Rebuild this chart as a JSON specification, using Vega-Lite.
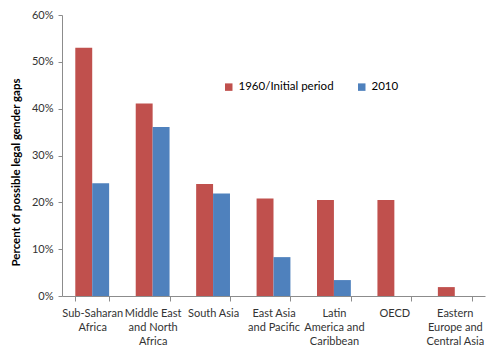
{
  "$schema": "https://vega.github.io/schema/vega-lite/v6.json",
  "autosize": {"type": "none"},
  "width": 423,
  "height": 281,
  "padding": {"left": 62, "top": 15, "right": 15, "bottom": 56},
  "background": "white",
  "config": {
    "view": {"stroke": null},
    "font": "Lato",
    "axis": {"labelFont": "Lato", "titleFont": "Lato", "labelColor": "#333333", "domainColor": "#8c8c8c", "tickColor": "#8c8c8c", "grid": false},
    "legend": {"labelFont": "Lato"}
  },
  "data": {
    "values": [
      {"region": "Sub-Saharan|Africa", "period": "1960/Initial period", "value": 0.53},
      {"region": "Sub-Saharan|Africa", "period": "2010", "value": 0.241},
      {"region": "Middle East|and North|Africa", "period": "1960/Initial period", "value": 0.411},
      {"region": "Middle East|and North|Africa", "period": "2010", "value": 0.361},
      {"region": "South Asia", "period": "1960/Initial period", "value": 0.239},
      {"region": "South Asia", "period": "2010", "value": 0.219},
      {"region": "East Asia|and Pacific", "period": "1960/Initial period", "value": 0.208},
      {"region": "East Asia|and Pacific", "period": "2010", "value": 0.083},
      {"region": "Latin|America and|Caribbean", "period": "1960/Initial period", "value": 0.205},
      {"region": "Latin|America and|Caribbean", "period": "2010", "value": 0.034},
      {"region": "OECD", "period": "1960/Initial period", "value": 0.205},
      {"region": "OECD", "period": "2010", "value": 0},
      {"region": "Eastern|Europe and|Central Asia", "period": "1960/Initial period", "value": 0.019},
      {"region": "Eastern|Europe and|Central Asia", "period": "2010", "value": 0}
    ]
  },
  "mark": {"type": "bar"},
  "encoding": {
    "x": {
      "field": "region", "type": "nominal", "sort": null,
      "scale": {"paddingInner": 0.44, "paddingOuter": 0.22},
      "axis": {
        "title": null, "labelAngle": 0, "labelExpr": "split(datum.label, '|')",
        "labelFontSize": 11, "labelLineHeight": 14, "labelPadding": 6,
        "tickBand": "extent", "tickSize": 5, "labelLimit": 200
      }
    },
    "xOffset": {"field": "period", "type": "nominal", "sort": ["1960/Initial period", "2010"], "scale": {"paddingInner": 0, "paddingOuter": 0}},
    "y": {
      "field": "value", "type": "quantitative",
      "scale": {"domain": [0, 0.6], "nice": false},
      "axis": {
        "format": ".0%", "values": [0, 0.1, 0.2, 0.3, 0.4, 0.5, 0.6],
        "labelFontSize": 11, "tickSize": 4, "labelPadding": 5,
        "title": "Percent of possible legal gender gaps",
        "titleFontSize": 11.5, "titleFontWeight": "bold", "titleColor": "#000000",
        "titleX": -41, "titleY": 157
      }
    },
    "color": {
      "field": "period", "type": "nominal",
      "scale": {"domain": ["1960/Initial period", "2010"], "range": ["#C0504D", "#4F81BD"]},
      "legend": {
        "title": null, "orient": "none", "direction": "horizontal",
        "legendX": 161, "legendY": 66,
        "symbolType": "square", "symbolSize": 56, "symbolStrokeWidth": 0,
        "labelFontSize": 11.5, "labelColor": "#000000", "columnPadding": 22
      }
    }
  }
}
